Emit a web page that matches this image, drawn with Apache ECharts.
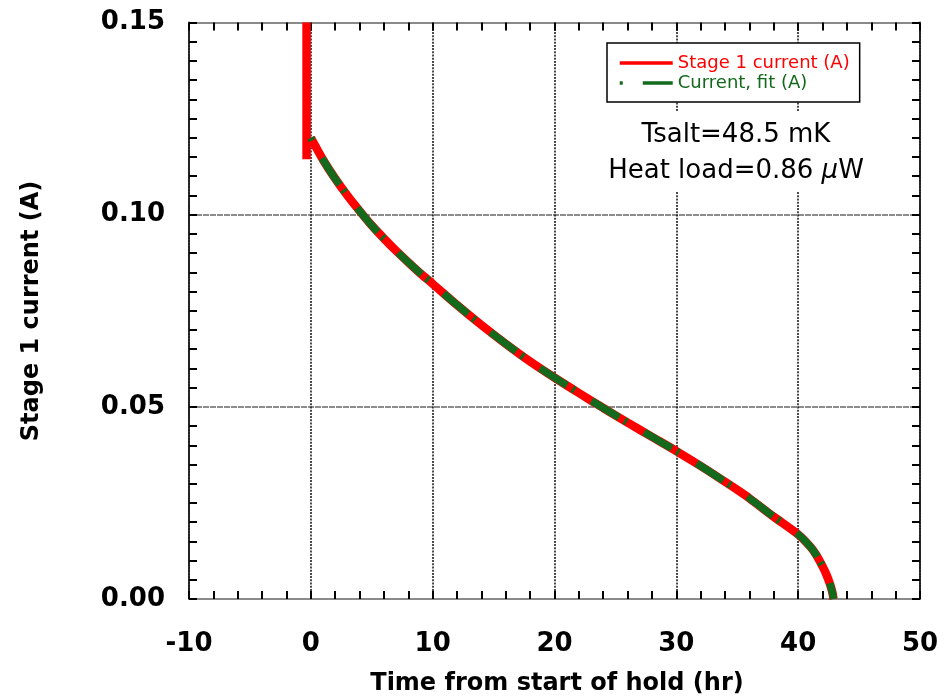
<!DOCTYPE html>
<html>
<head>
<meta charset="utf-8">
<script src="https://cdn.jsdelivr.net/npm/echarts@6/dist/echarts.min.js"></script>
<style>
  html, body { margin: 0; padding: 0; background: #fff; }
  #chart { width: 949px; height: 698px; }
</style>
</head>
<body>
<div id="chart"></div>
<script>
// Hold time (hr) and measured stage 1 magnet current (A)
const timeHr = [0, 1, 2, 3, 4, 5, 6, 7, 8, 9, 10, 12, 14, 16, 18, 20, 22, 24, 26, 28, 30,
                32, 34, 35, 36, 38, 40, 41, 41.5, 42, 42.3, 42.6, 42.8, 42.9];
const currentA = [0.1200, 0.1143, 0.1094, 0.1050, 0.1010, 0.0972, 0.0938, 0.0906, 0.0876,
                  0.0847, 0.0820, 0.0765, 0.0713, 0.0664, 0.0618, 0.0576, 0.0536, 0.0497,
                  0.0459, 0.0422, 0.0385, 0.0346, 0.0305, 0.0284, 0.0262, 0.0214, 0.0168,
                  0.0136, 0.0114, 0.0085, 0.0065, 0.0040, 0.0018, 0.0000];
// Fitted current over the same times
const fitA = [0.1200, 0.1143, 0.1094, 0.1050, 0.1010, 0.0972, 0.0938, 0.0906, 0.0876,
              0.0847, 0.0820, 0.0765, 0.0713, 0.0664, 0.0618, 0.0576, 0.0536, 0.0497,
              0.0459, 0.0422, 0.0385, 0.0346, 0.0305, 0.0284, 0.0262, 0.0214, 0.0168,
              0.0136, 0.0114, 0.0085, 0.0065, 0.0040, 0.0018, 0.0000];
// Ramp-down step just before the hold begins
const rampTime = [-0.35, -0.35];
const rampCurrent = [0.15, 0.1144];

const xTicks = { min: -10, max: 50, interval: 10 };
const yTicks = { min: 0, max: 0.15, interval: 0.05 };

const seriesNames = ['Stage 1 current (A)', 'Current, fit (A)'];
const noteLines = ['Tsalt=48.5 mK', 'Heat load=0.86 ', 'μ', 'W'];

const RED = '#ff0000';
const GREEN = '#136a1c';

const measured = rampTime.map((t, i) => [t, rampCurrent[i]]);
measured.push(null);
timeHr.forEach((t, i) => measured.push([t, currentA[i]]));
const fitted = timeHr.map((t, i) => [t, fitA[i]]);

const tickFont = { fontFamily: 'DejaVu Sans', fontWeight: 'bold', fontSize: 26, color: '#000' };

function xAxisCfg(pos, labels) {
  return {
    type: 'value', position: pos, min: xTicks.min, max: xTicks.max, interval: xTicks.interval,
    axisLine: { show: true, onZero: false, lineStyle: { color: '#8a8a8a', width: 2, type: [3, 1] } },
    axisTick: { show: true, inside: true, length: 8, lineStyle: { color: '#000', width: 2 } },
    minorTick: { show: true, splitNumber: 5, length: 8, lineStyle: { color: '#000', width: 2 } },
    axisLabel: Object.assign({ show: labels, margin: 32 }, tickFont),
    splitLine: { show: labels, lineStyle: { color: '#111', width: 1.5, type: [2, 1.2] } }
  };
}
function yAxisCfg(pos, labels) {
  return {
    type: 'value', position: pos, min: yTicks.min, max: yTicks.max, interval: yTicks.interval,
    axisLine: { show: true, onZero: false, lineStyle: { color: '#222', width: 2, type: [2, 1] } },
    axisTick: { show: true, inside: true, length: 8, lineStyle: { color: '#000', width: 2 } },
    minorTick: { show: true, splitNumber: 10, length: 8, lineStyle: { color: '#000', width: 2 } },
    axisLabel: Object.assign({ show: labels, margin: 24, formatter: v => v.toFixed(2) }, tickFont),
    splitLine: { show: labels, lineStyle: { color: '#8c8c8c', width: 2, type: [6, 1] } }
  };
}

const chart = echarts.init(document.getElementById('chart'), null, { renderer: 'canvas' });
chart.setOption({
  animation: false,
  backgroundColor: '#fff',
  grid: { left: 189, right: 29, top: 22.5, bottom: 99, containLabel: false },
  xAxis: [xAxisCfg('bottom', true), xAxisCfg('top', false)],
  yAxis: [yAxisCfg('left', true), yAxisCfg('right', false)],
  legend: {
    show: true,
    left: 607, top: 43, orient: 'vertical',
    padding: [11, 10, 10, 11], itemGap: 2, itemWidth: 53, itemHeight: 18,
    borderColor: '#000', borderWidth: 1.5, backgroundColor: '#fff',
    itemStyle: { opacity: 0 },
    lineStyle: { width: 3.5 },
    textStyle: { fontFamily: 'DejaVu Sans', fontSize: 18 },
    data: [
      { name: seriesNames[0], textStyle: { color: RED } },
      { name: seriesNames[1], textStyle: { color: GREEN } }
    ]
  },
  series: [
    {
      name: seriesNames[0], type: 'line', data: measured, showSymbol: false, symbol: 'none',
      connectNulls: false, smooth: 0.3, z: 3,
      lineStyle: { color: RED, width: 8.5 }, itemStyle: { color: RED }
    },
    {
      name: seriesNames[1], type: 'line', data: fitted, showSymbol: false, symbol: 'none',
      smooth: 0.3, z: 4,
      lineStyle: { color: GREEN, width: 7.5, type: [3, 20, 32, 6], cap: 'butt' }, itemStyle: { color: GREEN }
    }
  ],
  graphic: [
    {
      type: 'text', z: 10,
      style: {
        text: noteLines[0], x: 736, y: 135, align: 'center', verticalAlign: 'middle',
        fontFamily: 'DejaVu Sans', fontSize: 26, fill: '#000', backgroundColor: '#fff', padding: [8, 8, 12, 8]
      }
    },
    {
      type: 'text', z: 11,
      style: {
        text: noteLines[1] + '{i|' + noteLines[2] + '}' + noteLines[3],
        x: 736, y: 172, align: 'center', verticalAlign: 'middle',
        fontFamily: 'DejaVu Sans', fontSize: 26, fill: '#000', backgroundColor: '#fff', padding: [6, 8, 8, 8],
        rich: { i: { fontStyle: 'italic', fontFamily: 'DejaVu Sans', fontSize: 26 } }
      }
    },
    {
      type: 'text', z: 10,
      style: {
        text: 'Time from start of hold (hr)', x: 557, y: 684, align: 'center', verticalAlign: 'middle',
        fontFamily: 'DejaVu Sans', fontWeight: 'bold', fontSize: 24, fill: '#000'
      }
    },
    {
      type: 'text', z: 10, x: 32, y: 311, rotation: Math.PI / 2,
      style: {
        text: 'Stage 1 current (A)', x: 0, y: 0, align: 'center', verticalAlign: 'middle',
        fontFamily: 'DejaVu Sans', fontWeight: 'bold', fontSize: 24, fill: '#000'
      }
    }
  ]
});
</script>
</body>
</html>
